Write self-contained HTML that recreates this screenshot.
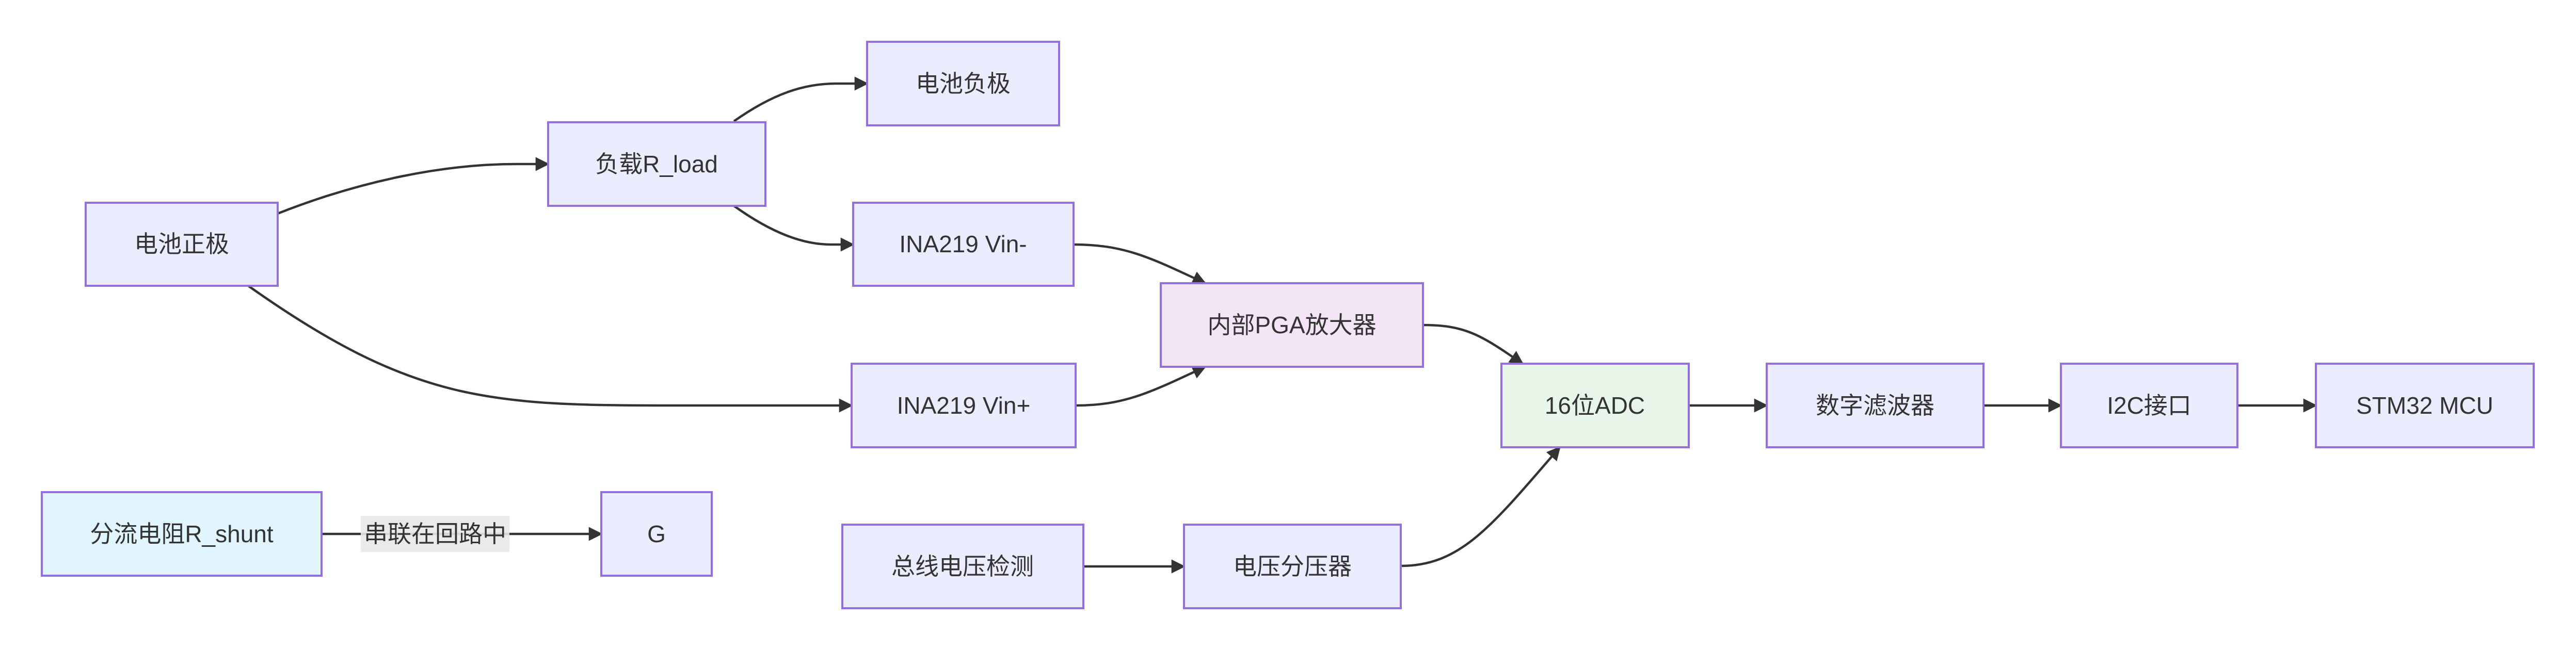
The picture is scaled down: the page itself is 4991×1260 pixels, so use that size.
<!DOCTYPE html>
<html><head><meta charset="utf-8"><style>
html,body{margin:0;padding:0;background:#fff;}
svg{display:block;}
text{font-family:"Liberation Sans","Noto Sans CJK SC",sans-serif;font-size:46px;fill:#333;text-anchor:middle;dominant-baseline:central;}
.n{fill:#ECECFF;stroke:#9370DB;stroke-width:4;}
.e{fill:none;stroke:#333;stroke-width:4.5;}
</style></head><body>
<svg width="4991" height="1260" viewBox="0 0 4991 1260" xmlns="http://www.w3.org/2000/svg">
<defs><marker id="a" viewBox="0 0 10 10" refX="9" refY="5" markerWidth="6" markerHeight="6" markerUnits="strokeWidth" orient="auto"><path d="M0,0 L10,5 L0,10 z" fill="#333"/></marker></defs>
<!-- edges -->
<path class="e" marker-end="url(#a)" d="M538,414 C700,350 860,318 1000,318 L1062,318"/>
<path class="e" marker-end="url(#a)" d="M1422,235 C1500,180 1560,162 1620,162 L1680,162"/>
<path class="e" marker-end="url(#a)" d="M1422,399 C1500,455 1560,474 1610,474 L1653,474"/>
<path class="e" marker-end="url(#a)" d="M481,554 C800,780 950,786 1300,786 L1650,786"/>
<path class="e" marker-end="url(#a)" d="M2080,474 C2180,474 2230,500 2335,549"/>
<path class="e" marker-end="url(#a)" d="M2084,786 C2180,786 2230,760 2335,711"/>
<path class="e" marker-end="url(#a)" d="M2757,630 C2840,630 2870,650 2950,705"/>
<path class="e" marker-end="url(#a)" d="M2714,1097 C2830,1097 2890,1020 3022,867"/>
<path class="e" marker-end="url(#a)" d="M2099,1098 L2294,1098"/>
<path class="e" marker-end="url(#a)" d="M3272,786 L3423,786"/>
<path class="e" marker-end="url(#a)" d="M3843,786 L3993,786"/>
<path class="e" marker-end="url(#a)" d="M4335,786 L4487,786"/>
<path class="e" marker-end="url(#a)" d="M623,1035 L1165,1035"/>
<!-- nodes -->
<rect class="n" x="166" y="393" width="372" height="161"/><text x="352" y="473">电池正极</text>
<rect class="n" x="1062" y="237" width="421" height="162"/><text x="1272" y="318">负载R_load</text>
<rect class="n" x="1680" y="81" width="372" height="162"/><text x="1866" y="162">电池负极</text>
<rect class="n" x="1653" y="393" width="427" height="161"/><text x="1866" y="473">INA219 Vin-</text>
<rect class="n" x="1650" y="705" width="434" height="162"/><text x="1867" y="786">INA219 Vin+</text>
<rect class="n" style="fill:#F3E5F5" x="2249" y="549" width="508" height="162"/><text x="2503" y="630">内部PGA放大器</text>
<rect class="n" style="fill:#E1F5FE" x="81" y="954" width="542" height="162"/><text x="352" y="1035">分流电阻R_shunt</text>
<rect x="699" y="1000" width="288" height="70" fill="#e8e8e8" opacity="0.9"/><text x="843" y="1035">串联在回路中</text>
<rect class="n" x="1165" y="954" width="214" height="162"/><text x="1272" y="1035">G</text>
<rect class="n" x="1632" y="1017" width="467" height="162"/><text x="1865" y="1098">总线电压检测</text>
<rect class="n" x="2294" y="1017" width="420" height="162"/><text x="2504" y="1098">电压分压器</text>
<rect class="n" style="fill:#E8F5E9" x="2909" y="705" width="363" height="162"/><text x="3090" y="786">16位ADC</text>
<rect class="n" x="3423" y="705" width="420" height="162"/><text x="3633" y="786">数字滤波器</text>
<rect class="n" x="3993" y="705" width="342" height="162"/><text x="4164" y="786">I2C接口</text>
<rect class="n" x="4487" y="705" width="422" height="162"/><text x="4698" y="786">STM32 MCU</text>
</svg>
</body></html>
